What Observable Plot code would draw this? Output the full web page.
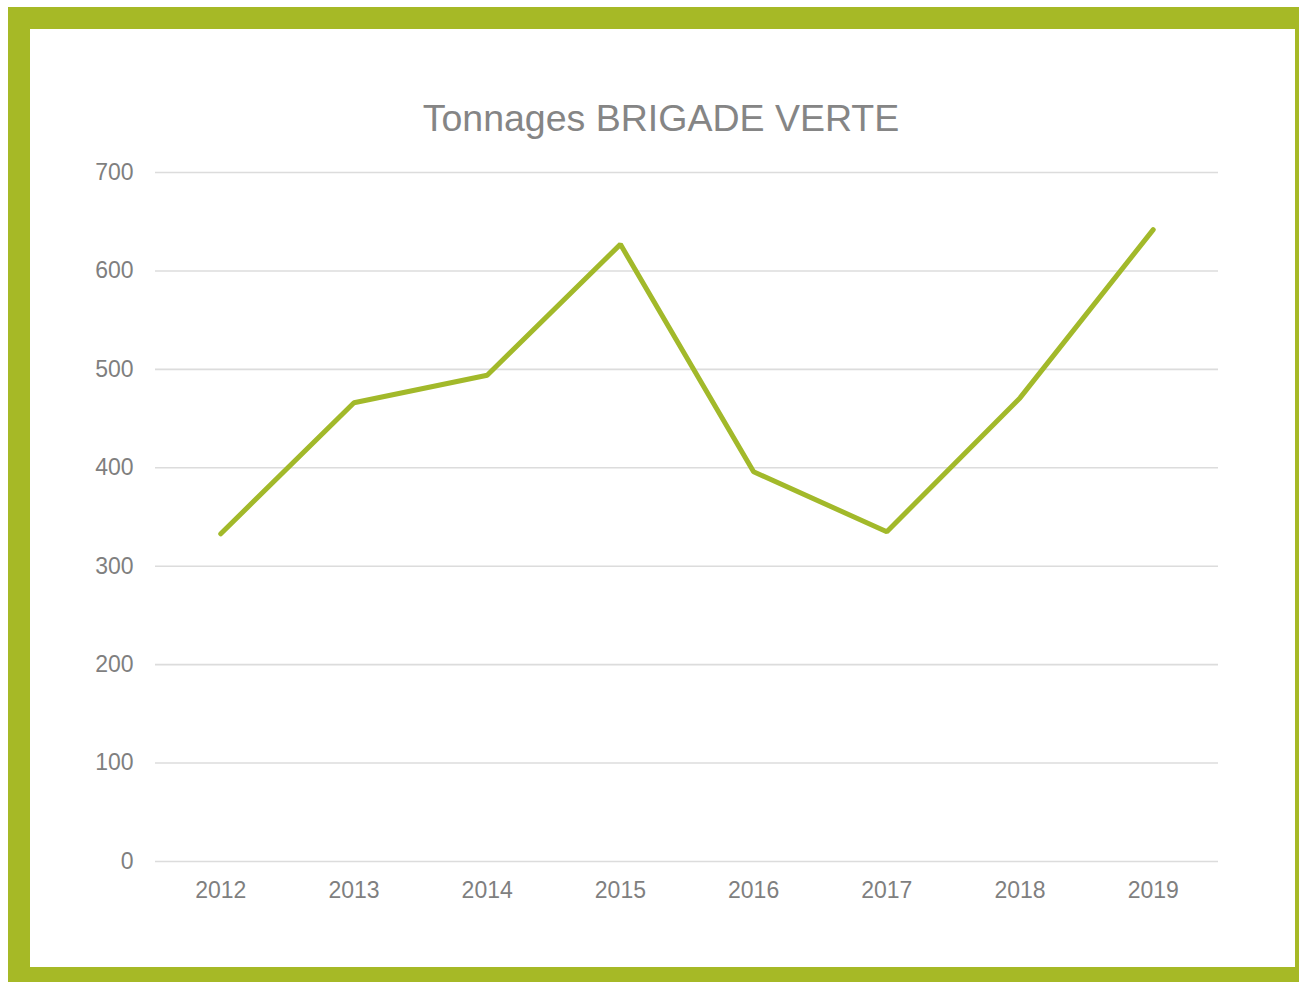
<!DOCTYPE html>
<html>
<head>
<meta charset="utf-8">
<script src="https://cdn.jsdelivr.net/npm/d3@7"></script>
<script src="https://cdn.jsdelivr.net/npm/@observablehq/plot@0.6"></script>
<style>
  html, body { margin: 0; padding: 0; width: 1299px; height: 982px; overflow: hidden; background: #fff; }
  #frame { position: absolute; left: 8px; top: 7px; width: 1265px; height: 938px; border: 22px solid #a6b926; }
  #title { position: absolute; left: 0; width: 1322px; top: 96px; text-align: center;
           font-family: "Liberation Sans", Arial, sans-serif; font-size: 37.5px; color: #858585; line-height: 44px; }
  #chart { position: absolute; left: 0; top: 0; }
</style>
</head>
<body>
<div id="frame"></div>
<div id="chart"></div>
<div id="title">Tonnages BRIGADE VERTE</div>
<script>
const years = ["2012", "2013", "2014", "2015", "2016", "2017", "2018", "2019"];
const tonnages = [333, 466, 494, 627, 396, 335, 471, 642];
const yTicks = [0, 100, 200, 300, 400, 500, 600, 700];

const data = years.map((y, i) => ({year: y, value: tonnages[i]}));

const chart = Plot.plot({
  width: 1299,
  height: 982,
  marginTop: 172,
  marginBottom: 121,
  marginLeft: 155,
  marginRight: 81,
  style: {fontFamily: "'Liberation Sans', Arial, sans-serif", fontSize: "23px", color: "#7f7f7f", background: "transparent"},
  x: {type: "point", domain: years, padding: 0.49, round: false, tickSize: 0, tickPadding: 20, label: null},
  y: {domain: [0, 700], ticks: yTicks, tickSize: 0, tickPadding: 22, label: null, tickFormat: d => String(d)},
  marks: [
    Plot.ruleY(yTicks, {stroke: "#dcdcdc", strokeWidth: 1.6}),
    Plot.line(data, {x: "year", y: "value", stroke: "#a2b92a", strokeWidth: 5, strokeLinecap: "round", strokeLinejoin: "miter"})
  ]
});
document.getElementById("chart").appendChild(chart);
</script>
</body>
</html>
